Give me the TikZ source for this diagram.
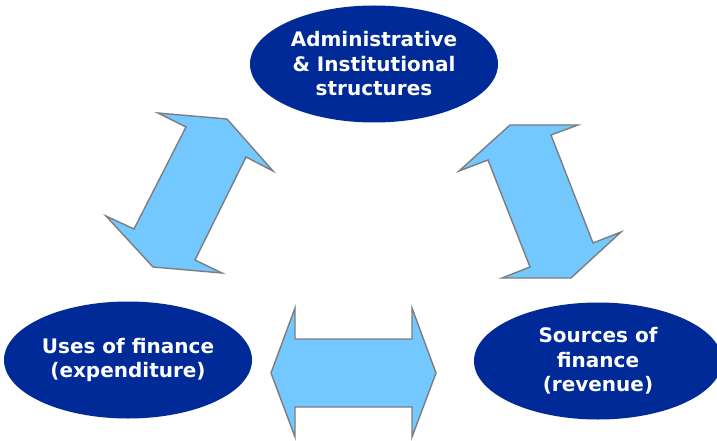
\documentclass[tikz,border=0pt]{standalone}
\usepackage{fontspec}
\setmainfont{DejaVu Sans}
\usetikzlibrary{shapes.geometric}
\definecolor{ovalblue}{RGB}{0,42,152}
\definecolor{arrowfill}{RGB}{115,201,255}
\definecolor{arrowline}{RGB}{125,125,125}
\begin{document}
\begin{tikzpicture}[x=1pt,y=-1pt,
  oval/.style={ellipse, fill=ovalblue, draw=none, inner sep=0pt,
    minimum width=248pt, minimum height=117pt,
    text=white, align=center, font=\bfseries\fontsize{20}{24.5}\selectfont},
  bigarrow/.style={fill=arrowfill, draw=arrowline, line width=1.4pt, line join=miter}]
\clip (0,0) rectangle (717,441);
\fill[white] (0,0) rectangle (717,441);

% the three areas
\node[oval] (admin) at (374,64) {Administrative\\\& Institutional\\structures};
\node[oval] (uses) at (128,360) {Uses of finance\\(expenditure)};
\node[oval] (sources) at (598,361) {Sources of\\finance\\(revenue)};

% two-way block arrows between them
\draw[bigarrow] (158,113) -- (227,119) -- (273,171) -- (246,157) -- (195,260)
  -- (222,273) -- (153,267) -- (106,216) -- (134,229) -- (186,127) -- cycle;
\draw[bigarrow] (510,125) -- (578,125) -- (551,135) -- (593,243) -- (621,232)
  -- (571,278) -- (502,278) -- (530,267) -- (488,160) -- (459,171) -- cycle;
\draw[bigarrow] (271,373) -- (295,308) -- (295,339) -- (412,339) -- (412,308)
  -- (436,373) -- (412,437) -- (412,407) -- (295,407) -- (295,437) -- cycle;
\end{tikzpicture}
\end{document}
